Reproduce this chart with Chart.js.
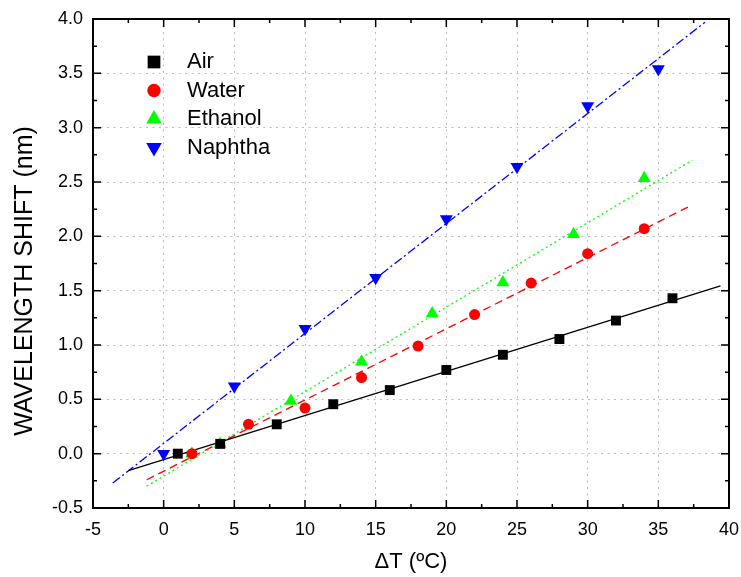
<!DOCTYPE html>
<html>
<head>
<meta charset="utf-8">
<script src="https://cdn.jsdelivr.net/npm/chart.js@4.4.0/dist/chart.umd.min.js"></script>
<style>
  html, body { margin: 0; padding: 0; background: #fff; }
  #wrap { width: 741px; height: 577px; }
</style>
</head>
<body>
<div id="wrap"><canvas id="shiftChart" width="741" height="577"></canvas></div>
<script>
// Measured points (temperature change vs wavelength shift)
const airT = [1, 4, 8, 12, 16, 20, 24, 28, 32, 36];
const airShift = [0.00, 0.09, 0.27, 0.455, 0.585, 0.77, 0.91, 1.055, 1.225, 1.43];
const waterT = [2, 6, 10, 14, 18, 22, 26, 30, 34];
const waterShift = [0.00, 0.27, 0.42, 0.70, 0.99, 1.28, 1.57, 1.84, 2.07];
const ethanolT = [2, 4, 9, 14, 19, 24, 29, 34];
const ethanolShift = [0.00, 0.09, 0.485, 0.845, 1.29, 1.575, 2.02, 2.535];
const naphthaT = [0, 5, 10, 15, 20, 25, 30, 35];
const naphthaShift = [0.00, 0.62, 1.15, 1.62, 2.16, 2.64, 3.20, 3.54];

// Linear fit lines, end points
const airFitT = [-2.5, 39.4];
const airFitShift = [-0.155, 1.545];
const waterFitT = [-1.2, 37.1];
const waterFitShift = [-0.24, 2.27];
const ethanolFitT = [-1.2, 37.4];
const ethanolFitShift = [-0.30, 2.70];
const naphthaFitT = [-3.6, 38.3];
const naphthaFitShift = [-0.27, 3.97];

const seriesNames = ['Air', 'Water', 'Ethanol', 'Naphtha'];
const xTicks = [-5, 0, 5, 10, 15, 20, 25, 30, 35, 40];
const yTicks = [-0.5, 0.0, 0.5, 1.0, 1.5, 2.0, 2.5, 3.0, 3.5, 4.0];
const xTitle = '\u0394T (\u00baC)';
const yTitle = 'WAVELENGTH SHIFT (nm)';

const FONT = '"Liberation Sans", Arial, sans-serif';
const toPoints = (xs, ys) => xs.map((v, i) => ({x: v, y: ys[i]}));

const styles = [
    {color: '#000000', point: 'rect', radius: 7, rotation: 0, dash: []},
    {color: '#ff0000', point: 'circle', radius: 5.5, rotation: 0, dash: [8, 5]},
    {color: '#00ff00', point: 'triangle', radius: 7.5, rotation: 0, dash: [2, 3]},
    {color: '#0000ff', point: 'triangle', radius: 7.5, rotation: 180, dash: [9, 3, 2, 3]}
];
const pointSets = [
    toPoints(airT, airShift), toPoints(waterT, waterShift),
    toPoints(ethanolT, ethanolShift), toPoints(naphthaT, naphthaShift)
];
const fitSets = [
    toPoints(airFitT, airFitShift), toPoints(waterFitT, waterFitShift),
    toPoints(ethanolFitT, ethanolFitShift), toPoints(naphthaFitT, naphthaFitShift)
];

const datasets = [];
pointSets.forEach((pts, i) => {
    const s = styles[i];
    datasets.push({
        label: seriesNames[i], data: pts, showLine: false,
        pointStyle: s.point, pointRotation: s.rotation, pointRadius: s.radius,
        backgroundColor: s.color, borderColor: s.color, borderWidth: 0, order: 0
    });
});
fitSets.forEach((pts, i) => {
    const s = styles[i];
    datasets.push({
        label: seriesNames[i] + ' fit', data: pts, showLine: true, pointRadius: 0,
        borderColor: s.color, borderWidth: 1.3, borderDash: s.dash, fill: false, order: 1
    });
});

// Draw a marker shape (used for the legend)
function marker(ctx, style, x, y, r) {
    ctx.beginPath();
    if (style.point === 'rect') {
        const h = r * Math.SQRT1_2;
        ctx.rect(x - h, y - h, 2 * h, 2 * h);
    } else if (style.point === 'circle') {
        ctx.arc(x, y, r, 0, Math.PI * 2);
    } else {
        const dir = style.rotation ? -1 : 1;
        ctx.moveTo(x, y - dir * r);
        ctx.lineTo(x + r * 0.866, y + dir * r / 2);
        ctx.lineTo(x - r * 0.866, y + dir * r / 2);
        ctx.closePath();
    }
    ctx.fillStyle = style.color;
    ctx.fill();
}

const frameAndLegend = {
    id: 'frameAndLegend',
    afterDraw(chart) {
        const {ctx, chartArea: a, scales: {x, y}} = chart;
        ctx.save();

        // top and right frame
        ctx.strokeStyle = '#000';
        ctx.lineWidth = 2;
        ctx.beginPath();
        ctx.moveTo(a.left - 1, a.top);
        ctx.lineTo(a.right, a.top);
        ctx.lineTo(a.right, a.bottom + 1);
        ctx.stroke();

        // inward ticks on all four sides, minor ones halfway
        ctx.lineWidth = 1.5;
        ctx.beginPath();
        for (let i = 0; i < xTicks.length; i++) {
            const vals = [xTicks[i]];
            if (i < xTicks.length - 1) vals.push((xTicks[i] + xTicks[i + 1]) / 2);
            vals.forEach((v, k) => {
                const px = x.getPixelForValue(v);
                const len = k === 0 ? 8 : 4;
                ctx.moveTo(px, a.bottom); ctx.lineTo(px, a.bottom - len);
                ctx.moveTo(px, a.top); ctx.lineTo(px, a.top + len);
            });
        }
        for (let i = 0; i < yTicks.length; i++) {
            const vals = [yTicks[i]];
            if (i < yTicks.length - 1) vals.push((yTicks[i] + yTicks[i + 1]) / 2);
            vals.forEach((v, k) => {
                const py = y.getPixelForValue(v);
                const len = k === 0 ? 8 : 4;
                ctx.moveTo(a.left, py); ctx.lineTo(a.left + len, py);
                ctx.moveTo(a.right, py); ctx.lineTo(a.right - len, py);
            });
        }
        ctx.stroke();

        // legend in the upper left corner
        ctx.font = '22px ' + FONT;
        ctx.textBaseline = 'middle';
        ctx.textAlign = 'left';
        seriesNames.forEach((name, i) => {
            const ly = 62 + i * 28.5;
            const s = styles[i];
            marker(ctx, s, 154, ly, s.point === 'circle' ? 6.7 : 9);
            ctx.fillStyle = '#000';
            ctx.fillText(name, 187, ly);
        });

        // y axis title
        ctx.font = '25px ' + FONT;
        ctx.textAlign = 'center';
        ctx.translate(25, 281);
        ctx.rotate(-Math.PI / 2);
        ctx.fillText(yTitle, 0, 0);
        ctx.restore();
    }
};

const ctx = document.getElementById('shiftChart').getContext('2d');
new Chart(ctx, {
    type: 'scatter',
    data: {datasets},
    options: {
        responsive: false,
        devicePixelRatio: 1,
        animation: false,
        layout: {padding: {left: 0, right: 12, top: 19, bottom: 0}},
        plugins: {legend: {display: false}, tooltip: {enabled: false}},
        scales: {
            x: {
                type: 'linear',
                min: xTicks[0], max: xTicks[xTicks.length - 1],
                afterBuildTicks: s => { s.ticks = xTicks.map(v => ({value: v})); },
                afterFit: s => { s.height = 69; s.paddingLeft = 0; s.paddingRight = 0; },
                ticks: {color: '#000', padding: 11, font: {family: FONT, size: 18}, callback: v => String(v)},
                grid: {color: '#bcbcbc', lineWidth: 1, drawTicks: false},
                border: {display: true, color: '#000', width: 2, dash: [2, 4.5]},
                title: {display: true, text: xTitle, color: '#000', font: {family: FONT, size: 22}, padding: {top: 0, bottom: 2}}
            },
            y: {
                type: 'linear',
                min: yTicks[0], max: yTicks[yTicks.length - 1],
                afterBuildTicks: s => { s.ticks = yTicks.map(v => ({value: v})); },
                afterFit: s => { s.width = 93; s.paddingTop = 0; s.paddingBottom = 0; },
                ticks: {color: '#000', padding: 10, font: {family: FONT, size: 18}, callback: v => Number(v).toFixed(1)},
                grid: {color: '#bcbcbc', lineWidth: 1, drawTicks: false},
                border: {display: true, color: '#000', width: 2, dash: [2, 4.5]}
            }
        }
    },
    plugins: [frameAndLegend]
});
</script>
</body>
</html>
